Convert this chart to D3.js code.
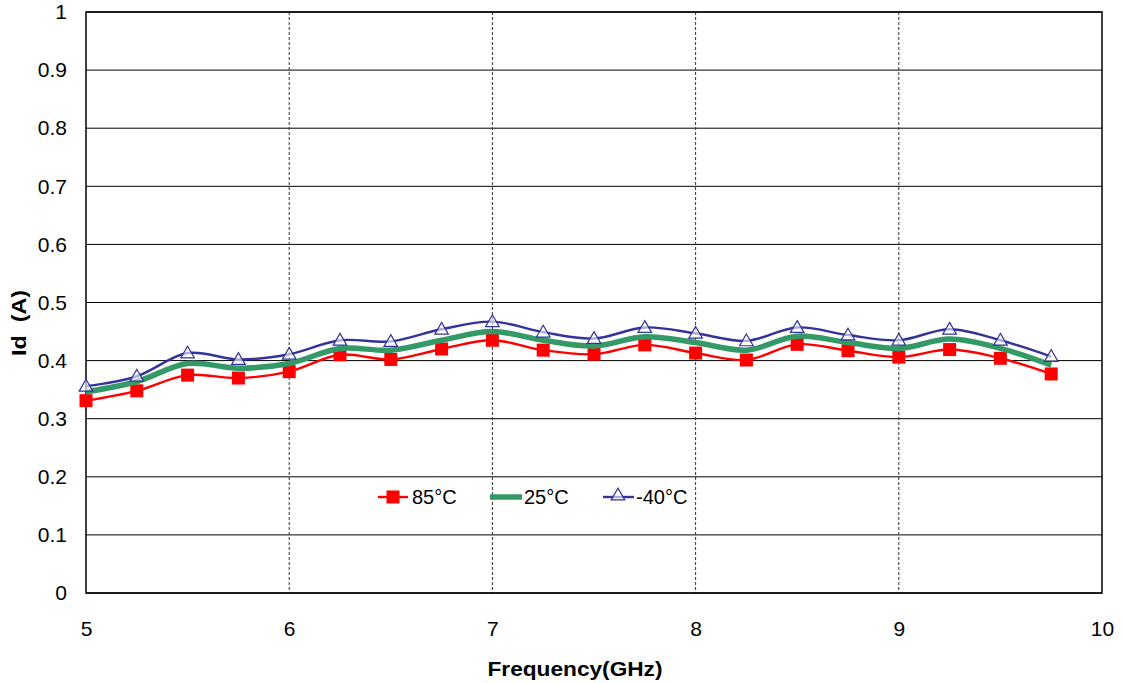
<!DOCTYPE html>
<html><head><meta charset="utf-8">
<script src="https://cdn.jsdelivr.net/npm/d3@7"></script>
<style>body{margin:0;background:#fff;} svg{display:block;font-family:Arial,"Liberation Sans",sans-serif;}</style>
</head><body><svg id="c" width="1122" height="683"></svg>
<script>
const freq = [5,5.25,5.5,5.75,6,6.25,6.5,6.75,7,7.25,7.5,7.75,8,8.25,8.5,8.75,9,9.25,9.5,9.75];
const id85 = [0.331,0.348,0.375,0.370,0.381,0.410,0.402,0.420,0.435,0.418,0.411,0.427,0.413,0.401,0.428,0.417,0.406,0.419,0.404,0.377];
const id25 = [0.346,0.364,0.395,0.387,0.395,0.421,0.418,0.435,0.450,0.435,0.425,0.441,0.431,0.418,0.442,0.431,0.421,0.437,0.421,0.392];
const idm40 = [0.356,0.373,0.413,0.402,0.411,0.435,0.433,0.454,0.467,0.449,0.438,0.457,0.447,0.434,0.457,0.444,0.435,0.454,0.435,0.407];
const xTicks = [5,6,7,8,9,10];
const yTicks = [0,0.1,0.2,0.3,0.4,0.5,0.6,0.7,0.8,0.9,1];
const seriesNames = ["85°C","25°C","-40°C"];

const svg = d3.select("#c");
const L=86,R=1102,T=12,B=593;
const x = d3.scaleLinear().domain([5,10]).range([L,R]);
const y = d3.scaleLinear().domain([0,1]).range([B,T]);
const FF = "Arial,'Liberation Sans',sans-serif";

// horizontal gridlines
svg.append("g").selectAll("line").data(yTicks).join("line")
  .attr("x1",L).attr("x2",R).attr("y1",d=>y(d)).attr("y2",d=>y(d))
  .attr("stroke","#000").attr("stroke-width",1);
// vertical dashed gridlines
svg.append("g").selectAll("line").data(xTicks.slice(1,-1)).join("line")
  .attr("x1",d=>x(d)).attr("x2",d=>x(d)).attr("y1",T).attr("y2",B)
  .attr("stroke","#333").attr("stroke-width",1).attr("stroke-dasharray","3,2");
// border
svg.append("rect").attr("x",L).attr("y",T).attr("width",R-L).attr("height",B-T)
  .attr("fill","none").attr("stroke","#000").attr("stroke-width",1.5);

// axes via d3
const yAxis = d3.axisLeft(y).tickValues(yTicks).tickFormat(d3.format("~g")).tickSize(0).tickPadding(19);
const gy = svg.append("g").attr("transform",`translate(${L},0)`).call(yAxis);
gy.select(".domain").remove();
gy.selectAll("text").attr("font-size",21).attr("font-family",FF).attr("fill","#000");
const xAxis = d3.axisBottom(x).tickValues(xTicks).tickFormat(d3.format("d")).tickSize(0).tickPadding(28);
const gx = svg.append("g").attr("transform",`translate(0,${B})`).call(xAxis);
gx.select(".domain").remove();
gx.selectAll("text").attr("font-size",21).attr("font-family",FF).attr("fill","#000");

// titles
svg.append("text").attr("transform","translate(26,323) rotate(-90)").attr("text-anchor","middle")
  .attr("font-size",21).attr("font-weight","bold").attr("xml:space","preserve")
  .attr("textLength",66).attr("lengthAdjust","spacingAndGlyphs").text("Id  (A)");
svg.append("text").attr("x",575).attr("y",676).attr("text-anchor","middle")
  .attr("font-size",21).attr("font-weight","bold")
  .attr("textLength",175).attr("lengthAdjust","spacingAndGlyphs").text("Frequency(GHz)");

const line = d3.line().x(d=>x(d[0])).y(d=>y(d[1])).curve(d3.curveCatmullRom.alpha(0.5));
const mk = arr => freq.map((f,i)=>[f,arr[i]]);

// 85
svg.append("path").datum(mk(id85)).attr("d",line).attr("fill","none").attr("stroke","#ff0000").attr("stroke-width",2.4);
svg.append("g").selectAll("rect").data(mk(id85)).join("rect")
  .attr("x",d=>x(d[0])-6.5).attr("y",d=>y(d[1])-6.5).attr("width",13).attr("height",13).attr("fill","#ff0000");
// 25
svg.append("path").datum(mk(id25)).attr("d",line).attr("fill","none").attr("stroke","#339966").attr("stroke-width",5.5);
// -40
svg.append("path").datum(mk(idm40)).attr("d",line).attr("fill","none").attr("stroke","#333399").attr("stroke-width",2.4);
const tri = d3.symbol().type(d3.symbolTriangle).size(80);
svg.append("g").selectAll("path").data(mk(idm40)).join("path")
  .attr("transform",d=>`translate(${x(d[0])},${y(d[1])+1})`).attr("d",tri)
  .attr("fill","#fff").attr("fill-opacity",0.6).attr("stroke","#333399").attr("stroke-width",1.2);

// legend
const ly = 497;
const lg = svg.append("g");
lg.append("line").attr("x1",378).attr("x2",408).attr("y1",ly).attr("y2",ly).attr("stroke","#ff0000").attr("stroke-width",2.4);
lg.append("rect").attr("x",393-6.5).attr("y",ly-6.5).attr("width",13).attr("height",13).attr("fill","#ff0000");
lg.append("text").attr("x",412).attr("y",ly).attr("dy","0.35em").attr("font-size",20).text(seriesNames[0]);
lg.append("line").attr("x1",490).attr("x2",522).attr("y1",ly).attr("y2",ly).attr("stroke","#339966").attr("stroke-width",5.5);
lg.append("text").attr("x",524).attr("y",ly).attr("dy","0.35em").attr("font-size",20).text(seriesNames[1]);
lg.append("line").attr("x1",603).attr("x2",634).attr("y1",ly).attr("y2",ly).attr("stroke","#333399").attr("stroke-width",2.4);
lg.append("path").attr("transform",`translate(618,${ly-1})`).attr("d",tri).attr("fill","#fff").attr("fill-opacity",0.6).attr("stroke","#333399").attr("stroke-width",1.2);
lg.append("text").attr("x",636).attr("y",ly).attr("dy","0.35em").attr("font-size",20).text(seriesNames[2]);
</script></body></html>
